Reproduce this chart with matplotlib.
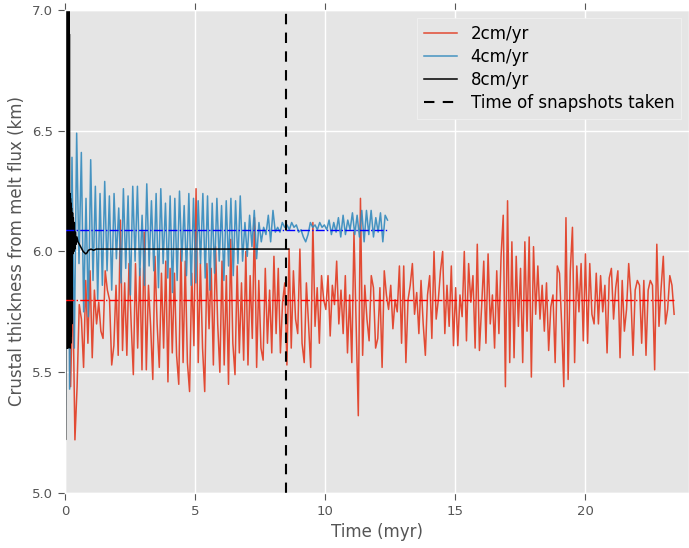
import matplotlib
matplotlib.use("Agg")
import matplotlib.pyplot as plt
import numpy as np

# crustal thickness (km) sampled through time for the three spreading rates
red_start, red_end = 0.05, 23.42
red_v = [
    5.60, 5.95, 5.44, 5.85, 5.22, 5.44, 5.78, 5.72, 5.52, 5.88, 5.62, 5.92,
    5.56, 5.84, 5.70, 5.79, 5.67, 5.64, 5.92, 5.84, 5.80, 5.53, 5.61, 5.86,
    5.57, 6.13, 5.59, 5.87, 5.57, 5.95, 5.70, 5.49, 5.95, 5.60, 5.93, 5.51,
    6.08, 5.51, 5.86, 5.69, 5.47, 5.98, 5.70, 5.52, 5.91, 5.60, 5.96, 5.46,
    5.93, 5.58, 5.91, 5.57, 5.45, 6.01, 5.54, 5.96, 5.54, 5.42, 5.91, 5.61,
    6.26, 5.54, 5.95, 5.60, 5.42, 5.95, 5.68, 5.93, 5.53, 6.02, 5.70, 5.50,
    5.96, 5.53, 5.90, 5.45, 6.05, 5.62, 5.49, 5.94, 5.58, 5.87, 5.55, 6.00,
    5.53, 5.90, 5.64, 6.14, 5.52, 5.88, 5.60, 5.55, 5.93, 5.62, 5.84, 5.58,
    5.98, 5.66, 5.93, 5.58, 5.79, 5.87, 5.53, 6.01, 5.60, 5.92, 5.72, 5.66,
    6.01, 5.62, 5.54, 5.87, 5.70, 5.52, 6.12, 5.69, 5.85, 5.62, 5.90, 5.80,
    5.76, 5.90, 5.65, 5.86, 5.78, 5.96, 5.70, 5.84, 5.66, 5.90, 5.58, 5.82,
    5.54, 6.08, 5.70, 5.32, 6.22, 5.57, 5.86, 5.72, 5.63, 5.90, 5.85, 5.60,
    5.64, 5.85, 5.52, 5.92, 5.82, 5.76, 5.86, 5.68, 5.80, 5.75, 5.94, 5.62,
    5.94, 5.54, 5.80, 5.86, 5.95, 5.74, 5.83, 5.66, 5.88, 5.70, 5.57, 5.82,
    5.90, 5.64, 6.00, 5.72, 5.80, 5.92, 6.00, 5.66, 5.86, 5.69, 5.94, 5.61,
    5.85, 5.61, 5.82, 5.73, 6.00, 5.63, 5.95, 5.79, 5.90, 5.60, 6.03, 5.59,
    5.77, 5.96, 5.62, 5.99, 5.70, 5.82, 5.60, 5.92, 5.66, 5.98, 6.15, 5.44,
    6.21, 5.54, 6.04, 5.56, 5.98, 5.69, 5.93, 5.54, 6.04, 5.67, 6.06, 5.48,
    6.02, 5.74, 5.94, 5.72, 5.86, 5.67, 5.87, 5.59, 5.77, 5.82, 5.54, 5.94,
    5.91, 5.70, 5.44, 6.14, 5.47, 5.92, 6.10, 5.54, 5.94, 5.75, 5.95, 5.63,
    5.99, 5.62, 5.95, 5.74, 5.70, 5.91, 5.70, 5.90, 5.75, 5.86, 5.58, 5.89,
    5.93, 5.72, 5.85, 5.92, 5.56, 5.88, 5.67, 5.76, 5.95, 5.82, 5.57, 5.84,
    5.88, 5.86, 5.62, 5.88, 5.57, 5.84, 5.88, 5.86, 5.51, 6.03, 5.69, 5.85,
    5.98, 5.70, 5.76, 5.90, 5.86, 5.74,
]

blue_end = 12.4
blue_v = [
    5.00, 6.87, 5.43, 6.39, 5.60, 6.49, 5.95, 6.41, 5.75, 6.22, 5.73, 6.38, 5.88, 6.27,
    5.80, 6.24, 5.86, 6.29, 5.92, 6.23, 5.84, 6.24, 5.97, 6.18, 5.87, 6.26, 5.93, 6.23,
    5.82, 6.27, 5.96, 6.27, 5.90, 6.15, 5.86, 6.28, 5.94, 6.21, 5.92, 6.24, 5.85, 6.26,
    5.95, 6.20, 5.89, 6.23, 5.83, 6.22, 5.88, 6.25, 5.96, 6.19, 5.90, 6.24, 5.86, 6.22,
    5.87, 6.21, 5.95, 6.24, 5.89, 6.23, 5.84, 6.20, 5.91, 6.22, 5.96, 6.19, 5.88, 6.21,
    5.94, 6.22, 5.90, 6.21, 5.95, 6.23, 5.96, 6.12, 5.98, 6.15, 6.02, 6.17, 5.97, 6.12,
    6.04, 6.10, 6.07, 6.15, 6.04, 6.17, 6.08, 6.10, 6.08, 6.12, 6.10, 6.11, 6.09, 6.12,
    6.10, 6.11, 6.08, 6.09, 6.06, 6.04, 6.07, 6.12, 6.10, 6.11, 6.09, 6.12, 6.10, 6.11,
    6.09, 6.13, 6.07, 6.12, 6.08, 6.14, 6.06, 6.15, 6.07, 6.13, 6.09, 6.16, 6.07, 6.15,
    6.06, 6.17, 6.04, 6.17, 6.07, 6.17, 6.06, 6.14, 6.08, 6.16, 6.04, 6.15, 6.13,
]

black_t = [0.00, 0.01, 0.02, 0.03, 0.04, 0.05, 0.06, 0.07, 0.08, 0.09, 0.10, 0.11, 0.12,
           0.13, 0.14, 0.15, 0.16, 0.17, 0.18, 0.19, 0.20, 0.21, 0.22, 0.23, 0.24, 0.25,
           0.26, 0.27, 0.28, 0.29, 0.30, 0.32, 0.34, 0.36, 0.38, 0.40, 0.43, 0.46, 0.50,
           0.55, 0.60, 0.65, 0.70, 0.75, 0.80, 0.85, 0.90, 1.00, 1.10, 1.20, 8.60]
black_v = [6.50, 7.30, 5.22, 7.20, 5.60, 7.10, 5.60, 7.10, 5.60, 7.05, 5.62, 7.05, 5.60,
           7.00, 5.62, 7.00, 5.65, 6.90, 5.65, 6.24, 5.60, 6.22, 5.62, 6.20, 5.65, 6.18,
           5.70, 6.16, 5.99, 6.16, 5.99, 6.14, 6.00, 6.12, 6.01, 6.08, 6.03, 6.06, 6.04,
           6.03, 6.02, 6.01, 6.00, 5.995, 5.99, 5.995, 6.005, 6.01, 6.005, 6.01, 6.01]

red_mean = 5.80
blue_mean = 6.09
snapshot_time = 8.5

labels = ["2cm/yr", "4cm/yr", "8cm/yr", "Time of snapshots taken"]

red_t = np.linspace(red_start, red_end, len(red_v))
blue_t = np.linspace(0, blue_end, len(blue_v))

plt.style.use("ggplot")
fig = plt.figure(figsize=(6.89, 5.48), dpi=100)
ax = fig.add_axes([0.0943, 0.1004, 0.906, 0.8814])

ax.plot(red_t, red_v, color="#E24A33", lw=1.1, label=labels[0])
ax.plot(blue_t, blue_v, color="#348ABD", lw=1.1, alpha=0.9, label=labels[1])
ax.plot(black_t, black_v, color="black", lw=1.1, label=labels[2])
ax.plot([0, red_end], [red_mean, red_mean], color="red", ls="-.", lw=1.0)
ax.plot([0, blue_end], [blue_mean, blue_mean], color="blue", ls="-.", lw=1.0)
ax.axvline(snapshot_time, color="black", lw=1.5, ls=(0, (5, 4)), label=labels[3])

ax.set_xlim(0, 24)
ax.set_ylim(5.0, 7.0)
ax.set_xticks([0, 5, 10, 15, 20])
ax.set_yticks([5.0, 5.5, 6.0, 6.5, 7.0])
ax.tick_params(top=True, right=True, direction="out", length=5, colors="#555555",
               labelsize=9.5)
ax.grid(True, color="white", lw=1)
ax.set_xlabel("Time (myr)", fontsize=12, color="#555555")
ax.set_ylabel("Crustal thickness from melt flux (km)", fontsize=12, color="#555555")

leg = ax.legend(loc="upper right", fontsize=12, fancybox=False, framealpha=1,
                facecolor="#E5E5E5", edgecolor="#F2F2F2", labelspacing=0.3)
for txt in leg.get_texts():
    txt.set_color("black")

fig.savefig("out.png", dpi=100)
